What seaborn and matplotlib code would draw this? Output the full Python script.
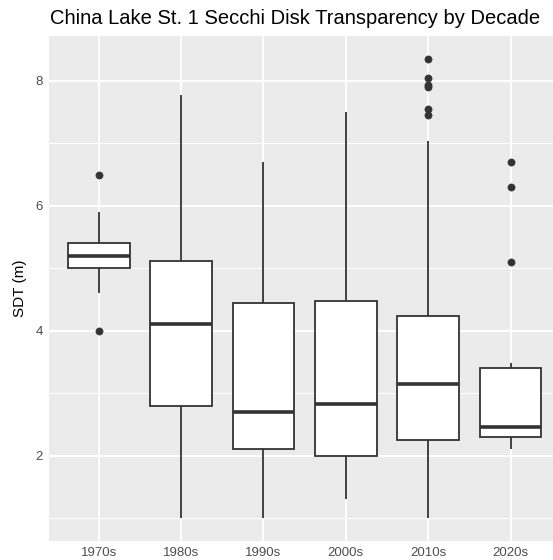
import pandas as pd
import numpy as np
import matplotlib
matplotlib.use('Agg')
import matplotlib.pyplot as plt
from matplotlib.ticker import MultipleLocator
import seaborn as sns

# --- DATA (Secchi depth readings per decade) ---
DECADES = ['1970s', '1980s', '1990s', '2000s', '2010s', '2020s']

SDT_1970s = [4.0, 4.6, 5.0, 5.1, 5.2, 5.3, 5.4, 5.9, 6.5]
SDT_1980s = [1.0, 2.8, 4.1, 5.12, 7.78]
SDT_1990s = [1.0, 2.1, 2.7, 4.45, 6.7]
SDT_2000s = [1.3, 2.0, 2.83, 4.47, 7.5]
SDT_2010s = [1.0, 1.4, 1.7, 1.9, 2.0, 2.1, 2.2,
             2.25, 2.4, 2.5, 2.7, 2.8, 2.95, 3.05,
             3.15, 3.3, 3.5, 3.7, 3.8, 4.0, 4.1,
             4.24, 7.03, 7.45, 7.55, 7.9, 7.93, 8.05, 8.35]
SDT_2020s = [2.1, 2.15, 2.2, 2.25,
             2.3, 2.35, 2.4, 2.43,
             2.45, 2.7, 3.0, 3.2,
             3.4, 3.49, 5.1, 6.3, 6.7]

Y_TICKS = [2, 4, 6, 8]

TITLE = 'China Lake St. 1 Secchi Disk Transparency by Decade'
Y_LABEL = 'SDT (m)'

GRAY20 = '#333333'
GRAY30 = '#4D4D4D'
PANEL = '#EBEBEB'


def make_plot():
    series = [SDT_1970s, SDT_1980s, SDT_1990s, SDT_2000s, SDT_2010s, SDT_2020s]
    rows = []
    for dec, vals in zip(DECADES, series):
        for v in vals:
            rows.append({'Decade': dec, 'SDT': v})
    df = pd.DataFrame(rows)

    sns.set_style('darkgrid')
    plt.rcParams['font.family'] = ['Liberation Sans', 'DejaVu Sans']

    W, H = 553, 560
    fig = plt.figure(figsize=(W / 100, H / 100), dpi=100)
    # panel runs past the right edge, like the cropped original
    left, right, top, bottom = 49.3, 560.0, 36.0, 541.0
    ax = fig.add_axes([left / W, 1 - bottom / H, (right - left) / W, (bottom - top) / H])
    ax.set_facecolor(PANEL)

    sns.boxplot(data=df, x='Decade', y='SDT', order=DECADES, ax=ax,
                color='white', saturation=1, linecolor=GRAY20, linewidth=1.3,
                width=0.75, showcaps=False, whis=1.5,
                medianprops={'linewidth': 2.6, 'color': GRAY20},
                flierprops={'marker': 'o', 'markersize': 5.2,
                            'markerfacecolor': GRAY20, 'markeredgecolor': GRAY20,
                            'markeredgewidth': 0.4})

    lo, hi = min(min(s) for s in series), max(max(s) for s in series)
    pad = 0.05 * (hi - lo)
    ax.set_ylim(lo - pad, hi + pad)
    ax.set_xlim(-0.6, len(DECADES) - 0.4)

    ax.set_yticks(Y_TICKS)
    ax.yaxis.set_minor_locator(MultipleLocator(1))
    ax.grid(which='major', color='white', linewidth=1.4)
    ax.grid(which='minor', axis='y', color='white', linewidth=0.7)
    ax.set_axisbelow(True)
    for s in ax.spines.values():
        s.set_visible(False)

    ax.tick_params(axis='both', which='major', length=2.9, width=1.0, color=GRAY20,
                   labelcolor=GRAY30, labelsize=9.5, pad=1.6)
    ax.tick_params(axis='y', which='minor', length=0)
    ax.set_xlabel('')
    ax.set_ylabel('')

    fig.text(20 / W, 1 - 288.5 / H, Y_LABEL, rotation=90, ha='center', va='center',
             fontsize=11, color='black')
    fig.text(50 / W, 1 - 24.5 / H, TITLE, ha='left', va='baseline',
             fontsize=14.5, color='black')

    fig.savefig('out.png', dpi=100)


if __name__ == '__main__':
    make_plot()
